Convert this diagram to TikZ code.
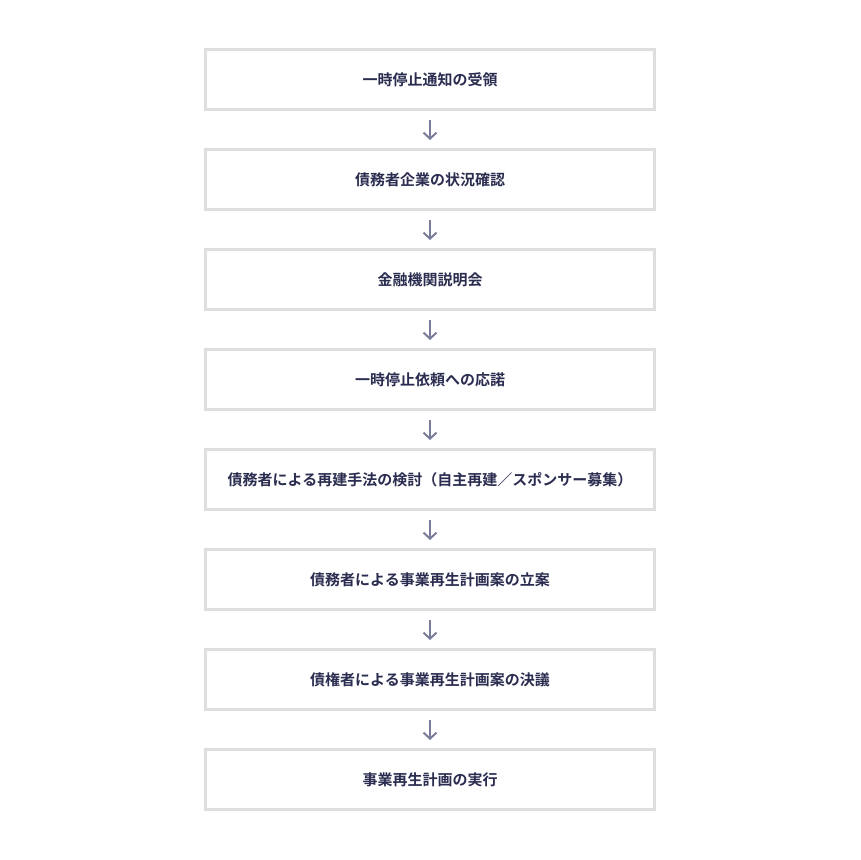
\documentclass[tikz,border=0pt]{standalone}
\usepackage{fontspec}
\setmainfont{Noto Sans CJK JP}[BoldFont={Noto Sans CJK JP Bold}]
\usetikzlibrary{arrows.meta}
\definecolor{boxline}{HTML}{DEDEDE}
\definecolor{txt}{HTML}{2A2D50}
\definecolor{arr}{HTML}{7A7D99}
\tikzset{
  stepbox/.style={draw=boxline, line width=3pt, fill=white, minimum width=449pt, minimum height=60pt, inner sep=0pt, font=\fontsize{15}{17}\selectfont\bfseries, text=txt},
  flowarrow/.style={draw=arr, line width=2pt, -{Straight Barb[length=6pt,width=13pt,line width=2pt]}, shorten <=9pt, shorten >=8pt}
}
\begin{document}
\begin{tikzpicture}[x=1pt,y=-1pt]
\useasboundingbox (0,0) rectangle (860,860);
\node[stepbox] (b1) at (430,79.5) {一時停止通知の受領};
\node[stepbox] (b2) at (430,179.5) {債務者企業の状況確認};
\node[stepbox] (b3) at (430,279.5) {金融機関説明会};
\node[stepbox] (b4) at (430,379.5) {一時停止依頼への応諾};
\node[stepbox] (b5) at (430,479.5) {債務者による再建手法の検討（自主再建／スポンサー募集）};
\node[stepbox] (b6) at (430,579.5) {債務者による事業再生計画案の立案};
\node[stepbox] (b7) at (430,679.5) {債権者による事業再生計画案の決議};
\node[stepbox] (b8) at (430,779.5) {事業再生計画の実行};
\foreach \a/\b in {b1/b2,b2/b3,b3/b4,b4/b5,b5/b6,b6/b7,b7/b8}
  \draw[flowarrow] (\a.south) -- (\b.north);
\end{tikzpicture}
\end{document}
